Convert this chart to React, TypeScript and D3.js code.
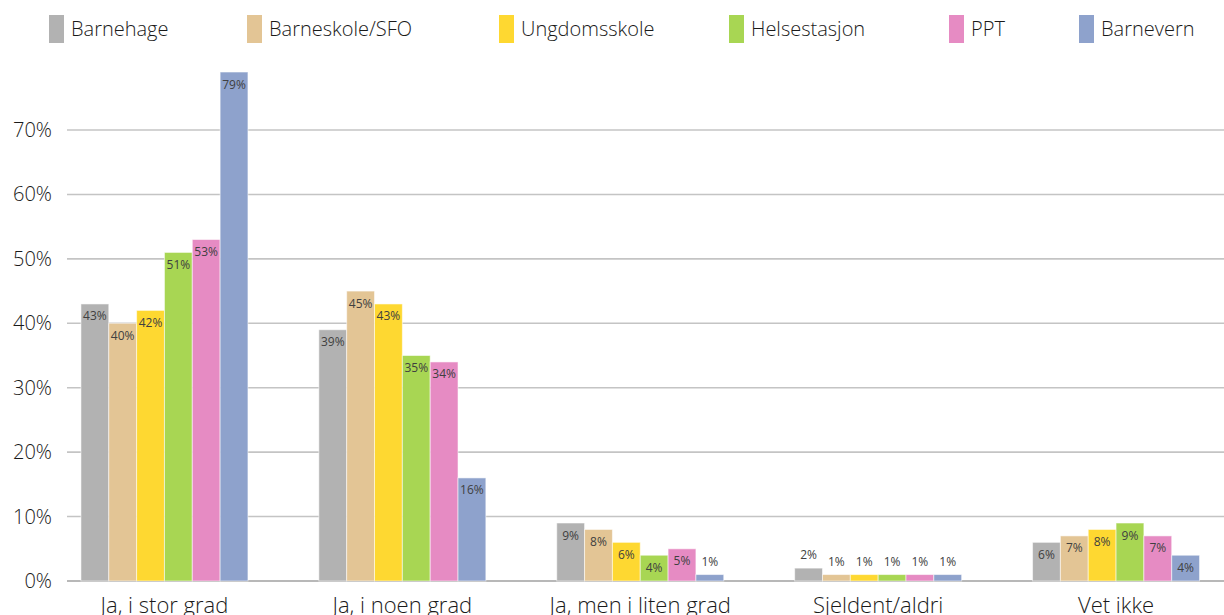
import React from "react";
import * as d3 from "d3";

const categories = ["Ja, i stor grad", "Ja, i noen grad", "Ja, men i liten grad", "Sjeldent/aldri", "Vet ikke"];
const seriesNames = ["Barnehage", "Barneskole/SFO", "Ungdomsskole", "Helsestasjon", "PPT", "Barnevern"];
const seriesColors = ["#b2b2b2", "#e3c595", "#fed831", "#a8d653", "#e68bc3", "#8ea2cc"];
const barnehage = [43, 39, 9, 2, 6];
const barneskole = [40, 45, 8, 1, 7];
const ungdomsskole = [42, 43, 6, 1, 8];
const helsestasjon = [51, 35, 4, 1, 9];
const ppt = [53, 34, 5, 1, 7];
const barnevern = [79, 16, 1, 1, 4];
const seriesValues = [barnehage, barneskole, ungdomsskole, helsestasjon, ppt, barnevern];
const yTicks = [0, 10, 20, 30, 40, 50, 60, 70];
const legendX = [49, 247, 499, 729, 949, 1079];

const W = 1224;
const H = 615;
const FONT = "'Open Sans', 'DejaVu Sans', sans-serif";

export default function App() {
  const y = d3.scaleLinear().domain([0, 70]).range([581, 130]);
  const x0 = d3.scaleBand<string>().domain(categories).range([45.5, 1235]).paddingInner(0.298).paddingOuter(0.149);
  const x1 = d3.scaleBand<string>().domain(seriesNames).range([0, x0.bandwidth()]).padding(0);

  return (
    <svg width={W} height={H} style={{ position: "absolute", left: 0, top: 0, background: "#fff" }} fontFamily={FONT}>
      {yTicks.map((t) => (
        <g key={t}>
          <line x1={67} x2={W} y1={y(t)} y2={y(t)} stroke={t === 0 ? "#b8b8b8" : "#c4c4c4"} strokeWidth={t === 0 ? 2 : 1.6} />
          <text x={52} y={y(t)} dy="0.35em" textAnchor="end" fontSize={20} fontWeight={300} fill="#1a1a1a">{`${t}%`}</text>
        </g>
      ))}
      {categories.map((c, ci) => (
        <g key={c} transform={`translate(${x0(c)},0)`}>
          {seriesNames.map((s, si) => {
            const v = seriesValues[si][ci];
            const top = y(v);
            const bx = x1(s)!;
            const inside = v >= 3;
            return (
              <g key={s}>
                <rect x={bx} y={top} width={x1.bandwidth()} height={581 - top} fill={seriesColors[si]} stroke="rgba(255,255,255,0.55)" strokeWidth={1} />
                <text x={bx + x1.bandwidth() / 2} y={inside ? top + 16.5 : top - 9} textAnchor="middle" fontSize={12} fill="#404040">{`${v}%`}</text>
              </g>
            );
          })}
          <text x={x0.bandwidth() / 2} y={613} textAnchor="middle" fontSize={22} fontWeight={300} fill="#1a1a1a">{c}</text>
        </g>
      ))}
      {seriesNames.map((s, i) => (
        <g key={s}>
          <rect x={legendX[i]} y={15} width={15} height={28} fill={seriesColors[i]} />
          <text x={legendX[i] + 22} y={29} dy="0.35em" fontSize={20} fontWeight={300} fill="#1a1a1a">{s}</text>
        </g>
      ))}
    </svg>
  );
}
